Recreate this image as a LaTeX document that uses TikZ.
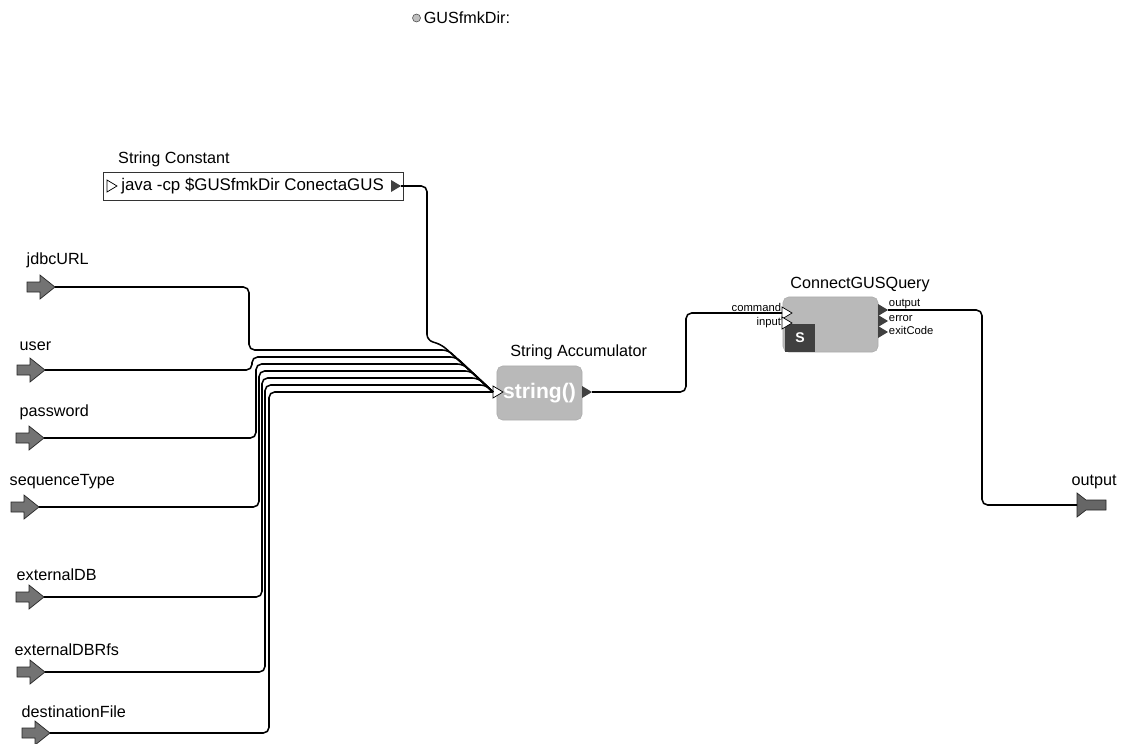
\documentclass[tikz,border=0pt]{standalone}
\usepackage{fontspec}
\setmainfont{Liberation Sans}
\usetikzlibrary{positioning, arrows.meta, calc}

\begin{document}
\begin{tikzpicture}[
        x=0.025cm, y=-0.025cm,
        % ----- 全局样式 -----
        font=\fontsize{11.5}{13}\selectfont,
        wire/.style={draw=black, line width=1.1pt, rounded corners=4pt},
        title/.style={inner sep=1pt},
        inlbl/.style={anchor=west, inner sep=1pt},
        portlbl/.style={font=\fontsize{8}{9}\selectfont, inner sep=0.5pt},
        % 常量框与 actor
        constbox/.style={draw=black!80, fill=white, line width=0.6pt, minimum width=7.5cm, minimum height=0.7cm},
        actor/.style={draw=gray!65, fill=gray!55, rounded corners=4pt},
        pdot/.style={circle, draw=black!70, fill=gray!50, minimum size=0.2cm, inner sep=0},
        % 端口
        bigin/.pic={
            \filldraw[fill=black!55, draw=black!85, line width=0.5pt]
                (0,0) -- (-15,-12) -- (-15,-5) -- (-28,-5) -- (-28,5) -- (-15,5) -- (-15,12) -- cycle;
            \coordinate (-tip) at (0,0);
        },
        bigout/.pic={
            \filldraw[fill=black!60, draw=black!85, line width=0.5pt]
                (0,-12) -- (9,-5) -- (29,-5) -- (29,5) -- (9,5) -- (0,12) -- cycle;
            \coordinate (-in) at (0,0);
        },
        inport/.pic={
            \filldraw[fill=white, draw=black, line width=0.5pt] (-10,-6) -- (0,0) -- (-10,6) -- cycle;
            \coordinate (-in) at (-10,0);
        },
        outport/.pic={
            \fill[black!75] (0,-6) -- (10,0) -- (0,6) -- cycle;
            \coordinate (-out) at (10,0);
        }
    ]
    \useasboundingbox (0,0) rectangle (1124,743);

    % ----- 参数 -----
    \node[inner sep=1pt] (gusdir) at (467,18) {GUSfmkDir:};
    \node[pdot, left=1pt of gusdir] (gusdot) {};

    % ----- String Constant -----
    \node[constbox] (sconst) at (253,186) {};
    \node[anchor=west, inner sep=0, font=\fontsize{12}{14}\selectfont] (sctext) at (121,186) {java -cp \$GUSfmkDir ConectaGUS};
    \node[title, above right=2pt and 0.35cm of sconst.north west] (sctitle) {String Constant};
    \pic (scin) at (117,186) {inport};
    \pic (scout) at (391,186) {outport};

    % ----- String Accumulator -----
    \node[actor, minimum width=2.125cm, minimum height=1.35cm, text=white,
          font=\fontsize{15}{17}\selectfont\bfseries] (acc) at (539.5,393) {string()};
    \node[title, above right=3pt and 0.3cm of acc.north west] (acctitle) {String Accumulator};
    \pic (accin) at (503,392) {inport};
    \pic (accout) at (582,392) {outport};

    % ----- ConnectGUSQuery -----
    \node[actor, minimum width=2.375cm, minimum height=1.375cm] (cgq) at (830.5,324.5) {};
    \node[title, above right=2pt and 0.15cm of cgq.north west] (cgqtitle) {ConnectGUSQuery};
    \node[fill=black!75, minimum width=0.75cm, minimum height=0.7cm, text=white,
          font=\bfseries, inner sep=0] (cgqicon) at (800,338) {S};
    \pic (cmdin) at (792,313) {inport};
    \pic (inpin) at (792,323) {inport};
    \pic (cgqout) at (878,310) {outport};
    \pic (cgqerr) at (878,321) {outport};
    \pic (cgqexit) at (878,332) {outport};
    \node[portlbl, anchor=south east] (cmdlbl) at (cmdin-in) {command};
    \node[portlbl, anchor=east] (inplbl) at (inpin-in) {input};
    \node[portlbl, anchor=south west] (outlbl) at (cgqout-out) {output};
    \node[portlbl, anchor=west, yshift=2pt] (errlbl) at (cgqerr-out) {error};
    \node[portlbl, anchor=west, yshift=1pt] (exitlbl) at (cgqexit-out) {exitCode};

    % ----- 输入端口 -----
    \pic (jdbc) at (55,287) {bigin};
    \node[inlbl] (jdbclbl) at (25,260) {jdbcURL};
    \pic (user) at (45,370) {bigin};
    \node[inlbl] (userlbl) at (18,346) {user};
    \pic (pwd) at (44,438) {bigin};
    \node[inlbl] (pwdlbl) at (18,412) {password};
    \pic (seq) at (39,507) {bigin};
    \node[inlbl] (seqlbl) at (8,482) {sequenceType};
    \pic (extdb) at (44,597) {bigin};
    \node[inlbl] (extdblbl) at (15,575) {externalDB};
    \pic (extrfs) at (45,672) {bigin};
    \node[inlbl] (extrfslbl) at (13,650) {externalDBRfs};
    \pic (dest) at (50,733) {bigin};
    \node[inlbl] (destlbl) at (20,712) {destinationFile};

    % ----- 输出端口 -----
    \pic (outp) at (1077,505) {bigout};
    \node[inlbl] (outplbl) at (1070,482) {output};

    % ----- 连线 -----
    \draw[wire] (scout-out) -- (427,186) -- (427,340) -- (442,345) -- (accin-in);
    \draw[wire] (jdbc-tip) -| (249,350) -- (448,350) -- (accin-in);
    \draw[wire] (user-tip) -| (252,357) -- (456,357) -- (accin-in);
    \draw[wire] (pwd-tip) -| (256,364) -- (463,364) -- (accin-in);
    \draw[wire] (seq-tip) -| (259,371) -- (471,371) -- (accin-in);
    \draw[wire] (extdb-tip) -| (262,378) -- (478,378) -- (accin-in);
    \draw[wire] (extrfs-tip) -| (265,385) -- (486,385) -- (accin-in);
    \draw[wire] (dest-tip) -| (269,392) -- (accin-in);
    \draw[wire] (accout-out) -- (686,392) |- (cmdin-in);
    \draw[wire] (cgqout-out) -| (982,505) -- (outp-in);
\end{tikzpicture}
\end{document}
